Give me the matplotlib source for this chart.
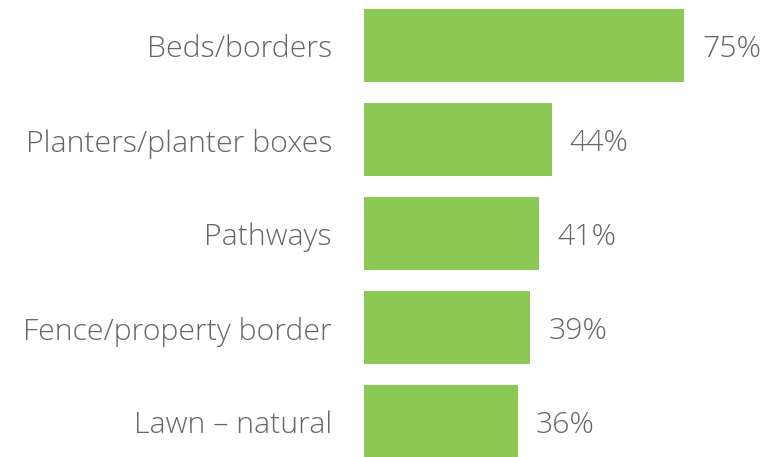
import matplotlib.pyplot as plt

# Data
categories = ['Beds/borders', 'Planters/planter boxes', 'Pathways',
              'Fence/property border', 'Lawn \u2013 natural']
values = [75, 44, 41, 39, 36]

bar_color = '#8cc954'
text_color = '#666666'

fig = plt.figure(figsize=(7.74, 4.57), dpi=100)
ax = fig.add_axes([364 / 774, 0, 410 / 774, 1])

ypos = list(range(len(categories)))
ax.barh(ypos, values, height=0.77, color=bar_color)

ax.set_xlim(0, 410 / 4.267)
ax.set_ylim((457 - 45.5) / 94, -45.5 / 94)

font = dict(fontsize=21.8, color=text_color, family='Open Sans', fontweight='light')
for y, v, c in zip(ypos, values, categories):
    ax.annotate(f'{v}%', xy=(v, y), xytext=(13, -3), textcoords='offset points',
                ha='left', va='center', **font)
    ax.annotate(c, xy=(0, y), xytext=(-23, -3), textcoords='offset points',
                ha='right', va='center', annotation_clip=False, **font)

ax.axis('off')
fig.savefig('out.png', dpi=100)
